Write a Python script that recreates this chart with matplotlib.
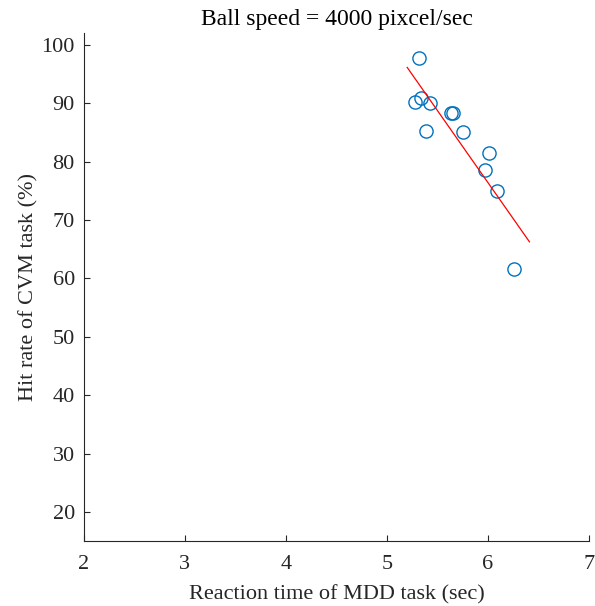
import numpy as np
import matplotlib.pyplot as plt

# reaction time (sec) vs hit rate (%)
reaction_time = [5.32, 5.28, 5.34, 5.43, 5.63, 5.65, 5.39, 5.75, 6.01, 5.97, 6.09, 6.26]
hit_rate = [97.7, 90.2, 90.8, 90.1, 88.3, 88.3, 85.3, 85.0, 81.5, 78.5, 74.9, 61.6]
fit_range = [5.20, 6.41]

plt.rcParams['font.family'] = ['Liberation Serif', 'DejaVu Serif']
plt.rcParams['font.size'] = 16

fig = plt.figure(figsize=(5.95, 6.06), dpi=100)
ax = fig.add_axes([0.141, 0.107, 0.849, 0.8385])

ax.plot(reaction_time, hit_rate, 'o', mfc='none', mec='#0072BD', ms=9.5, mew=1.0)

# least squares line
p = np.polyfit(reaction_time, hit_rate, 1)
xf = np.array(fit_range)
ax.plot(xf, np.polyval(p, xf), color='#FF0000', lw=0.9)

ax.set_xlim(2, 7)
ax.set_ylim(15, 102)
ax.set_xticks([2, 3, 4, 5, 6, 7])
ax.set_yticks(range(20, 101, 10))
for s in ['top', 'right']:
    ax.spines[s].set_visible(False)
for s in ['left', 'bottom']:
    ax.spines[s].set_color('#262626')
    ax.spines[s].set_linewidth(0.8)
ax.tick_params(direction='in', length=4, width=0.8, color='#262626',
               labelcolor='#262626', labelsize=16)
ax.tick_params(axis='y', pad=6.5)
ax.tick_params(axis='x', pad=10)

ax.set_xlabel('Reaction time of MDD task (sec)', color='#262626', fontsize=16, labelpad=8)
ax.set_ylabel('Hit rate of CVM task (%)', color='#262626', fontsize=16, labelpad=2)
ax.set_title('Ball speed = 4000 pixcel/sec', color='#000000', fontsize=17, pad=5.5)

fig.savefig('out.png', dpi=100)
